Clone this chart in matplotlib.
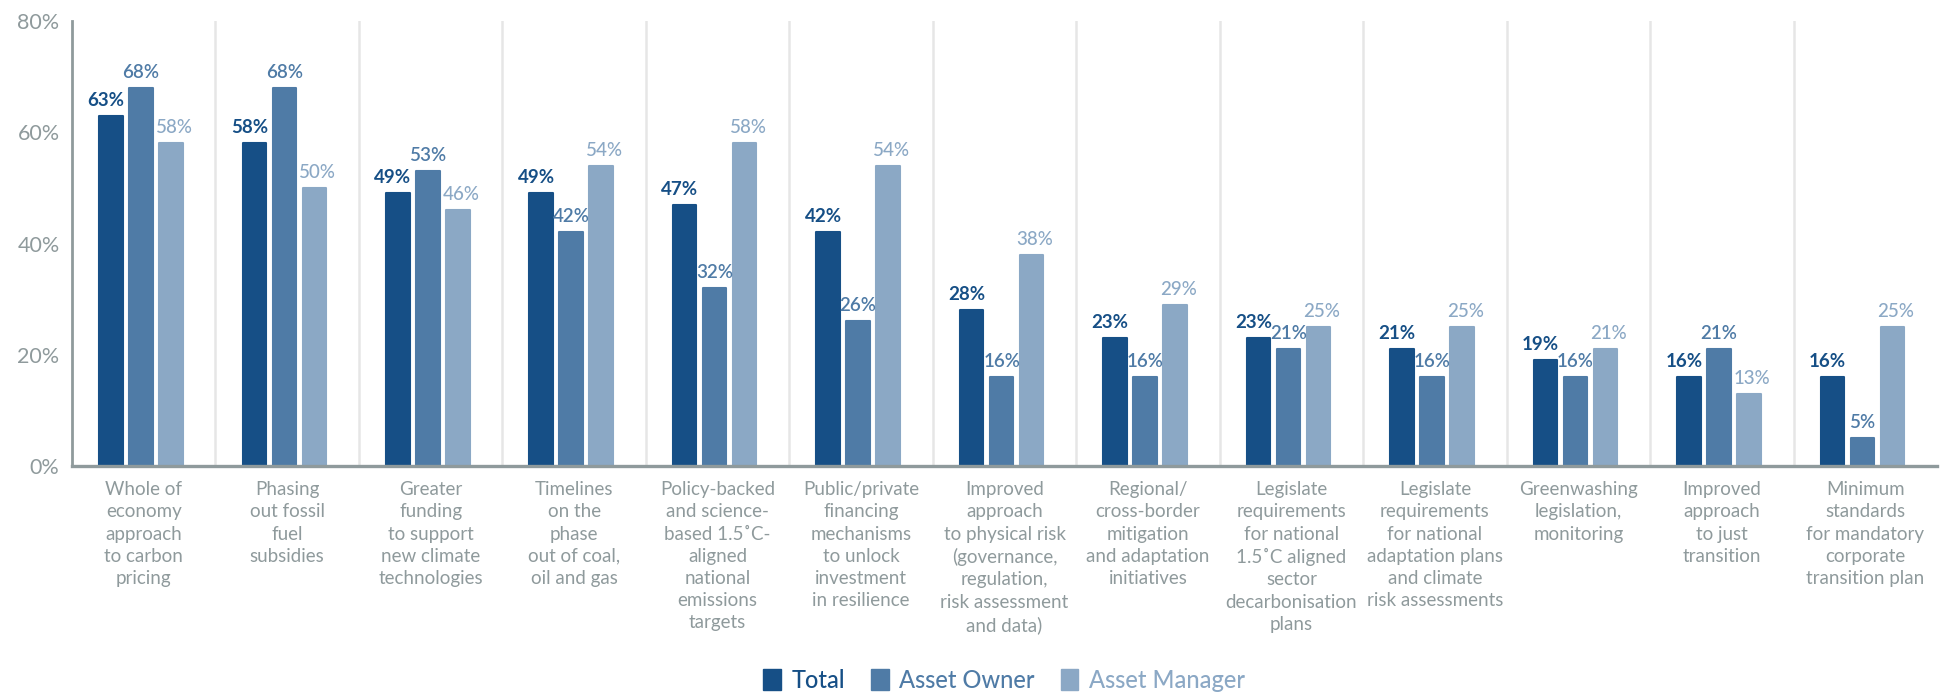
import numpy as np
import matplotlib
matplotlib.use("Agg")
import matplotlib.pyplot as plt
from matplotlib.patches import Patch

plt.rcParams['font.family'] = ['Lato', 'DejaVu Sans']

categories = [
    "Whole of\neconomy\napproach\nto carbon\npricing",
    "Phasing\nout fossil\nfuel\nsubsidies",
    "Greater\nfunding\nto support\nnew climate\ntechnologies",
    "Timelines\non the\nphase\nout of coal,\noil and gas",
    "Policy-backed\nand science-\nbased 1.5˚C-\naligned\nnational\nemissions\ntargets",
    "Public/private\nfinancing\nmechanisms\nto unlock\ninvestment\nin resilience",
    "Improved\napproach\nto physical risk\n(governance,\nregulation,\nrisk assessment\nand data)",
    "Regional/\ncross-border\nmitigation\nand adaptation\ninitiatives",
    "Legislate\nrequirements\nfor national\n1.5˚C aligned\nsector\ndecarbonisation\nplans",
    "Legislate\nrequirements\nfor national\nadaptation plans\nand climate\nrisk assessments",
    "Greenwashing\nlegislation,\nmonitoring",
    "Improved\napproach\nto just\ntransition",
    "Minimum\nstandards\nfor mandatory\ncorporate\ntransition plan",
]
total = [63, 58, 49, 49, 47, 42, 28, 23, 23, 21, 19, 16, 16]
asset_owner = [68, 68, 53, 42, 32, 26, 16, 16, 21, 16, 16, 21, 5]
asset_manager = [58, 50, 46, 54, 58, 54, 38, 29, 25, 25, 21, 13, 25]
series_names = ["Total", "Asset Owner", "Asset Manager"]

colors = ["#164f86", "#4f7ba6", "#8ba8c5"]
weights = ["bold", "semibold", "medium"]
nudges = [-3.5, 0, 2.5]  # horizontal label offsets in points
grey = "#8f9a9c"

fig = plt.figure(figsize=(19.42, 6.93), dpi=100)
ax = fig.add_axes([72 / 1942, 1 - 466 / 693, 1865 / 1942, 445 / 693])

x = np.arange(len(categories))
width = 0.164
step = 0.209

# light separators between the groups
for s in x[:-1] + 0.5:
    ax.axvline(s, color="#e6e6e6", lw=1.8, zorder=0)

for i, (vals, col, w) in enumerate(zip([total, asset_owner, asset_manager], colors, weights)):
    pos = x + (i - 1) * step - 0.02
    ax.bar(pos, vals, width, color=col, edgecolor=col, linewidth=1.5,
           joinstyle="round", zorder=2)
    for p, v in zip(pos, vals):
        ax.annotate(f"{v}%", (p, v), xytext=(nudges[i], 5), textcoords="offset points",
                    ha="center", va="bottom", fontsize=13.5, color=col, fontweight=w)

ax.set_xlim(-0.5, len(categories) - 0.5)
ax.set_ylim(0, 80)
ax.set_yticks([0, 20, 40, 60, 80])
ax.set_yticklabels([f"{t}%" for t in [0, 20, 40, 60, 80]])
ax.tick_params(axis="y", length=0, pad=9, labelsize=15.5, labelcolor=grey)
ax.set_xticks(x)
ax.set_xticklabels(categories, fontsize=13.5, color=grey, linespacing=1.37)
ax.tick_params(axis="x", length=0, pad=11)

for side in ["top", "right"]:
    ax.spines[side].set_visible(False)
ax.spines["left"].set_color(grey)
ax.spines["left"].set_linewidth(2)
ax.spines["bottom"].set_color(grey)
ax.spines["bottom"].set_linewidth(2.4)
ax.spines["bottom"].set_zorder(3)

handles = [Patch(facecolor=c, edgecolor=c, joinstyle="round") for c in colors]
leg = fig.legend(handles, series_names, loc="center", bbox_to_anchor=(1004 / 1942, 1 - 680 / 693),
                 ncol=3, frameon=False, fontsize=17, handlelength=0.75, handleheight=1.0,
                 handletextpad=0.45, columnspacing=1.1, labelcolor=colors)
for t in leg.get_texts():
    t.set_fontweight("medium")

fig.savefig("out.png", dpi=100)
